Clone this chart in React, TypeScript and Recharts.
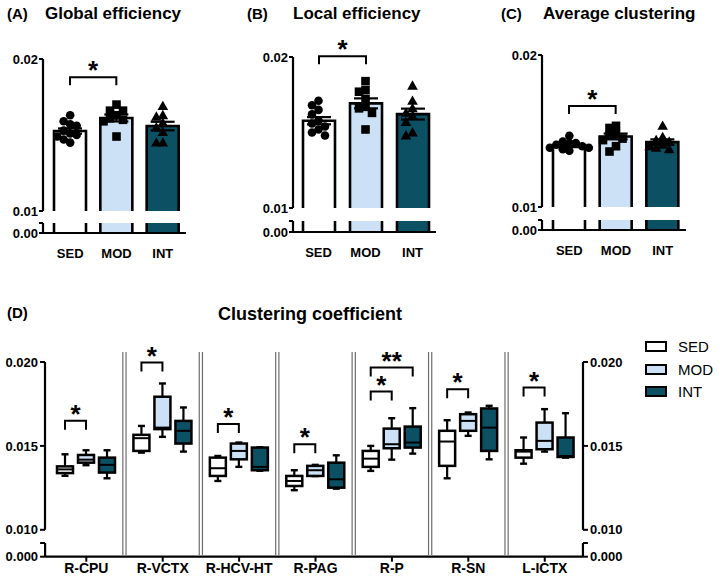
import React from "react"
import { Bar, Cell, ComposedChart, ErrorBar, Legend, ReferenceLine, Scatter, XAxis, YAxis } from "recharts"

const FONT = '"Liberation Sans", Arial, sans-serif'
const INK = "#000"

const groups = ["SED", "MOD", "INT"]
const groupFill: Record<string, string> = { SED: "#ffffff", MOD: "#cde1f6", INT: "#0c5064" }

// (A) Global efficiency: dots = animals, bar = mean, whisker = SEM
const globalSed = [0.0163, 0.0159, 0.0157, 0.0156, 0.0153, 0.0151, 0.015, 0.0149, 0.0147, 0.0145]
const globalMod = [0.017, 0.0166, 0.0166, 0.0163, 0.0161, 0.016, 0.0159, 0.0149]
const globalInt = [0.0169, 0.0163, 0.0162, 0.0158, 0.0155, 0.0152, 0.0145, 0.0145]
const globalMean = [0.01526, 0.01612, 0.01559]
const globalSem = [0.00017, 0.00023, 0.00028]
const globalBracket = 0.0188

// (B) Local efficiency
const localSed = [0.0171, 0.0168, 0.0165, 0.0162, 0.0158, 0.0156, 0.0154, 0.0152, 0.015, 0.0148]
const localMod = [0.0184, 0.0178, 0.0177, 0.0172, 0.0167, 0.0166, 0.0163, 0.0152]
const localInt = [0.0181, 0.0171, 0.0166, 0.0163, 0.0161, 0.0157, 0.015, 0.0148]
const localMean = [0.01578, 0.01693, 0.01622]
const localSem = [0.00024, 0.00033, 0.00036]
const localBracket = 0.02005

// (C) Average clustering
const avgSed = [0.01468, 0.0143, 0.0142, 0.0142, 0.0141, 0.014, 0.0139, 0.0139, 0.0138, 0.0137]
const avgMod = [0.01534, 0.0152, 0.0148, 0.0147, 0.0145, 0.0144, 0.014, 0.01365]
const avgInt = [0.01534, 0.0146, 0.0144, 0.0143, 0.0141, 0.014, 0.0139, 0.0138]
const avgMean = [0.01404, 0.01464, 0.01427]
const avgSem = [0.0001, 0.00019, 0.00018]
const avgBracket = 0.01665

// (D) Clustering coefficient per region: [min, q1, median, q3, max]
const regions = ["R-CPU", "R-VCTX", "R-HCV-HT", "R-PAG", "R-P", "R-SN", "L-ICTX"]
const sedBoxes = [
  [0.01322, 0.01338, 0.0136, 0.01378, 0.0145],
  [0.0146, 0.0147, 0.01546, 0.01566, 0.01619],
  [0.01291, 0.01321, 0.01367, 0.0143, 0.0144],
  [0.01236, 0.01261, 0.01291, 0.01321, 0.01355],
  [0.01351, 0.01375, 0.01424, 0.0147, 0.015],
  [0.01307, 0.01381, 0.01526, 0.0159, 0.01653],
  [0.01394, 0.0143, 0.01466, 0.01474, 0.0155],
]
const modBoxes = [
  [0.01385, 0.014, 0.01418, 0.01446, 0.01474],
  [0.01554, 0.016, 0.01609, 0.01793, 0.01872],
  [0.01375, 0.0142, 0.0147, 0.01514, 0.0152],
  [0.0132, 0.01321, 0.01355, 0.01381, 0.01387],
  [0.01418, 0.01486, 0.0151, 0.01603, 0.01665],
  [0.0156, 0.0159, 0.01649, 0.01689, 0.01699],
  [0.01466, 0.0148, 0.0153, 0.01639, 0.01719],
]
const intBoxes = [
  [0.01307, 0.01341, 0.01387, 0.0143, 0.01474],
  [0.01466, 0.01514, 0.0159, 0.01649, 0.01729],
  [0.01352, 0.01355, 0.01375, 0.0149, 0.01492],
  [0.01245, 0.01251, 0.01301, 0.014, 0.01444],
  [0.01454, 0.0149, 0.0152, 0.01615, 0.01725],
  [0.0142, 0.0147, 0.01609, 0.01723, 0.01739],
  [0.0143, 0.01434, 0.0144, 0.0155, 0.01695],
]

// significance brackets in (D), always starting at SED
const bracketRegion = ["R-CPU", "R-VCTX", "R-HCV-HT", "R-PAG", "R-P", "R-P", "R-SN", "L-ICTX"]
const bracketTo = [1, 1, 1, 1, 1, 2, 1, 1]
const bracketLevel = [0.0165, 0.01997, 0.0163, 0.0151, 0.01824, 0.01967, 0.01838, 0.01848]
const bracketMark = ["*", "*", "*", "*", "*", "**", "*", "*"]

const tickText = { fill: INK, fontSize: 13, fontWeight: 700, fontFamily: FONT }
const axisStroke = { stroke: INK, strokeWidth: 2.2 }
const tickStroke = { stroke: INK, strokeWidth: 2 }

// deterministic beeswarm slots so close values sit side by side
function swarmSlots(values: number[], gap: number): number[] {
  const placed: { v: number; s: number }[] = []
  const order = [0, -1, 1, -2, 2, -3, 3]
  return values.map((v) => {
    const taken = placed.filter((p) => Math.abs(p.v - v) < gap).map((p) => p.s)
    const s = order.find((o) => !taken.includes(o)) ?? 0
    placed.push({ v, s })
    return s
  })
}

function Title({ x, cy, size, text }: { x: number; cy: number; size: number; text: string }) {
  const lh = Math.round(size * 1.2)
  return (
    <div
      style={{
        position: "absolute",
        left: x,
        top: cy - lh / 2,
        lineHeight: lh + "px",
        fontSize: size,
        fontWeight: 700,
        fontFamily: FONT,
        whiteSpace: "nowrap",
        color: INK,
      }}
    >
      {text}
    </div>
  )
}

function Star({ x, y, mark }: { x: number; y: number; mark: string }) {
  return (
    <text x={x} y={y + 6} textAnchor="middle" fontSize={26} fontWeight={700} fontFamily={FONT} fill={INK}>
      {mark}
    </text>
  )
}

const markShape = (kind: number) => (p: any) => {
  const cx = p.cx + p.payload.slot * 6.5
  const cy = p.cy
  if (kind === 0) return <circle cx={cx} cy={cy} r={4.3} fill={INK} />
  if (kind === 1) return <rect x={cx - 4.3} y={cy - 4.3} width={8.6} height={8.6} fill={INK} />
  return <path d={`M${cx},${cy - 5.4} L${cx + 5.3},${cy + 4} L${cx - 5.3},${cy + 4} Z`} fill={INK} />
}

type Lay = {
  axisX: number
  y02: number
  y01: number
  yCap: number
  y00: number
  right: number
  pad: number
  tagX: number
  titleX: number
}

function BarPanel(props: {
  tag: string
  title: string
  points: number[][]
  mean: number[]
  sem: number[]
  bracket: number
  lay: Lay
}) {
  const { tag, title, points, mean, sem, bracket, lay } = props
  const band = (lay.right - lay.axisX - lay.pad) / 3
  const pxPerUnit = (lay.y01 - lay.y02) / 0.01
  const capValue = (lay.y00 - lay.yCap) / pxPerUnit
  const data = groups.map((g, i) => ({ g, mean: mean[i], sem: sem[i] }))
  const dots = groups.map((g, i) => {
    const slots = swarmSlots(points[i], 0.00045)
    return points[i].map((v, k) => ({ g, v, slot: slots[k] }))
  })
  const left = lay.axisX - 43
  const width = lay.right - left + 6
  const headroom = 42
  const foot = 9

  const upperShape = (p: any) => {
    const { x, y, width: w, height: h, fill, payload } = p
    let bracketEl = null
    if (payload.g === "SED") {
      const k = h / (payload.mean - 0.01)
      const by = y - (bracket - payload.mean) * k
      const x1 = x + w / 2
      const x2 = x1 + band
      bracketEl = (
        <g>
          <path d={`M${x1},${by + 8} V${by} H${x2} V${by + 8}`} fill="none" stroke={INK} strokeWidth={2} />
          <Star x={(x1 + x2) / 2} y={by - 4} mark="*" />
        </g>
      )
    }
    return (
      <g>
        <rect x={x} y={y} width={w} height={h} fill={fill} />
        <path d={`M${x},${y + h} V${y} H${x + w} V${y + h}`} fill="none" stroke={INK} strokeWidth={2.6} />
        {bracketEl}
      </g>
    )
  }

  const lowerShape = (p: any) => {
    const { x, y, width: w, height: h, fill } = p
    return (
      <g>
        <rect x={x} y={y} width={w} height={h} fill={fill} />
        <line x1={x} x2={x} y1={y} y2={y + h} stroke={INK} strokeWidth={2.6} />
        <line x1={x + w} x2={x + w} y1={y} y2={y + h} stroke={INK} strokeWidth={2.6} />
      </g>
    )
  }

  return (
    <>
      <Title x={lay.tagX} cy={14} size={15} text={tag} />
      <Title x={lay.titleX} cy={14} size={17} text={title} />
      <div style={{ position: "absolute", left, top: lay.y02 - headroom }}>
        <ComposedChart
          width={width}
          height={headroom + lay.y01 - lay.y02 + foot}
          data={data}
          margin={{ top: headroom, right: 6, bottom: foot, left: 0 }}
        >
          <XAxis dataKey="g" hide allowDuplicatedCategory={false} padding={{ left: lay.pad, right: 0 }} />
          <YAxis
            type="number"
            width={43}
            domain={[0.01, 0.02]}
            ticks={[0.01, 0.02]}
            interval={0}
            tickFormatter={(v: number) => v.toFixed(2)}
            tick={tickText}
            tickSize={4}
            tickMargin={1}
            axisLine={axisStroke}
            tickLine={tickStroke}
          />
          <Bar dataKey="mean" barSize={32} shape={upperShape} isAnimationActive={false}>
            {data.map((d) => (
              <Cell key={d.g} fill={groupFill[d.g]} />
            ))}
            <ErrorBar dataKey="sem" width={12} stroke={INK} strokeWidth={2.2} direction="y" />
          </Bar>
          {groups.map((g, i) => (
            <Scatter key={g} data={dots[i]} dataKey="v" shape={markShape(i)} isAnimationActive={false} />
          ))}
        </ComposedChart>
      </div>
      <div style={{ position: "absolute", left, top: lay.yCap - 1 }}>
        <ComposedChart
          width={width}
          height={1 + lay.y00 - lay.yCap + 28}
          data={data}
          margin={{ top: 1, right: 6, bottom: 0, left: 0 }}
        >
          <XAxis
            dataKey="g"
            height={28}
            interval={0}
            padding={{ left: lay.pad, right: 0 }}
            tickLine={false}
            tickMargin={10}
            tick={tickText}
            axisLine={axisStroke}
          />
          <YAxis
            type="number"
            width={43}
            domain={[0, capValue]}
            ticks={[0, capValue]}
            interval={0}
            allowDataOverflow
            tickFormatter={(v: number) => (v === 0 ? "0.00" : "")}
            tick={tickText}
            tickSize={4}
            tickMargin={1}
            axisLine={axisStroke}
            tickLine={tickStroke}
          />
          <Bar dataKey="mean" barSize={32} shape={lowerShape} isAnimationActive={false}>
            {data.map((d) => (
              <Cell key={d.g} fill={groupFill[d.g]} />
            ))}
          </Bar>
        </ComposedChart>
      </div>
    </>
  )
}

const LegendBoxes = (props: any) => {
  const items = [...(props.payload || [])].sort(
    (a: any, b: any) => groups.indexOf(a.value) - groups.indexOf(b.value)
  )
  return (
    <div style={{ fontFamily: FONT, fontSize: 15, color: INK }}>
      {items.map((p: any) => (
        <div key={p.value} style={{ display: "flex", alignItems: "center", height: 22.4 }}>
          <span
            style={{
              display: "inline-block",
              width: 18,
              height: 7,
              border: "2.7px solid #000",
              background: p.color,
            }}
          />
          <span style={{ marginLeft: 11 }}>{p.value}</span>
        </div>
      ))}
    </div>
  )
}

function ClusterPanel() {
  const plotLeft = 45
  const plotRight = 583
  const y020 = 361.7
  const y010 = 529.5
  const yCap = 543
  const y000 = 556.7
  const pad = 3
  const headroom = 45
  const foot = 9
  const rightW = 50
  const step = 16 + 5
  const capValue = ((y000 - yCap) * 0.01) / (y010 - y020)
  const upperTop = y020 - headroom

  const data = regions.map((region, i) => ({
    region,
    SED: [sedBoxes[i][0], sedBoxes[i][4]],
    MOD: [modBoxes[i][0], modBoxes[i][4]],
    INT: [intBoxes[i][0], intBoxes[i][4]],
    stats: { SED: sedBoxes[i], MOD: modBoxes[i], INT: intBoxes[i] } as Record<string, number[]>,
  }))
  const seps = regions.slice(1)

  const boxShape = (g: string) => (p: any) => {
    const { x, y, width: w, height: h, payload } = p
    const [lo, q1, med, q3, hi] = payload.stats[g]
    const k = h / (hi - lo)
    const py = (v: number) => y + (hi - v) * k
    const cx = x + w / 2
    const brackets =
      g === "SED"
        ? bracketRegion
            .map((r, i) => ({ r, i }))
            .filter((b) => b.r === payload.region)
            .map(({ i }) => {
              const by = py(bracketLevel[i])
              const x2 = cx + bracketTo[i] * step
              return (
                <g key={i}>
                  <path d={`M${cx},${by + 9} V${by} H${x2} V${by + 9}`} fill="none" stroke={INK} strokeWidth={2} />
                  <Star x={(cx + x2) / 2} y={by - 4} mark={bracketMark[i]} />
                </g>
              )
            })
        : null
    return (
      <g>
        <line x1={cx} x2={cx} y1={py(hi)} y2={py(q3)} stroke={INK} strokeWidth={2.2} />
        <line x1={cx} x2={cx} y1={py(q1)} y2={py(lo)} stroke={INK} strokeWidth={2.2} />
        <line x1={cx - 3.5} x2={cx + 3.5} y1={py(hi)} y2={py(hi)} stroke={INK} strokeWidth={2.4} />
        <line x1={cx - 3.5} x2={cx + 3.5} y1={py(lo)} y2={py(lo)} stroke={INK} strokeWidth={2.4} />
        <rect
          x={x}
          y={py(q3)}
          width={w}
          height={Math.max(py(q1) - py(q3), 0.5)}
          fill={groupFill[g]}
          stroke={INK}
          strokeWidth={2.5}
        />
        <line x1={x} x2={x + w} y1={py(med)} y2={py(med)} stroke={INK} strokeWidth={2} />
        {brackets}
      </g>
    )
  }

  const yTicks = {
    type: "number" as const,
    tick: tickText,
    tickSize: 5,
    tickMargin: 2,
    interval: 0 as const,
    axisLine: axisStroke,
    tickLine: tickStroke,
  }

  return (
    <>
      <Title x={7} cy={313} size={15} text="(D)" />
      <Title x={218} cy={314} size={18} text="Clustering coefficient" />
      <div style={{ position: "absolute", left: 0, top: 352, pointerEvents: "none" }}>
        <ComposedChart
          width={720}
          height={203}
          data={data}
          margin={{ top: 0, right: 720 - plotRight, bottom: 0, left: plotLeft }}
        >
          <XAxis dataKey="region" hide scale="band" padding={{ left: pad, right: 0 }} />
          <YAxis type="number" hide domain={[0, 1]} allowDataOverflow />
          {seps.map((r) => (
            <ReferenceLine key={"g" + r} x={r} position="start" stroke="#6e6e6e" strokeWidth={4.4} />
          ))}
          {seps.map((r) => (
            <ReferenceLine key={"w" + r} x={r} position="start" stroke="#ffffff" strokeWidth={2} />
          ))}
        </ComposedChart>
      </div>
      <div style={{ position: "absolute", left: 0, top: upperTop }}>
        <ComposedChart
          width={720}
          height={headroom + y010 - y020 + foot}
          data={data}
          barGap={5}
          margin={{ top: headroom, right: 720 - plotRight - rightW, bottom: foot, left: 0 }}
        >
          <XAxis dataKey="region" hide padding={{ left: pad, right: 0 }} />
          <YAxis
            yAxisId="l"
            width={plotLeft}
            domain={[0.01, 0.02]}
            ticks={[0.01, 0.015, 0.02]}
            tickFormatter={(v: number) => v.toFixed(3)}
            {...yTicks}
          />
          <YAxis
            yAxisId="r"
            orientation="right"
            width={rightW}
            domain={[0.01, 0.02]}
            ticks={[0.01, 0.015, 0.02]}
            allowDataOverflow
            tickFormatter={(v: number) => v.toFixed(3)}
            {...yTicks}
          />
          {groups.map((g) => (
            <Bar
              key={g}
              yAxisId="l"
              dataKey={g}
              name={g}
              fill={groupFill[g]}
              barSize={16}
              shape={boxShape(g)}
              isAnimationActive={false}
            />
          ))}
          <Legend
            layout="vertical"
            align="center"
            verticalAlign="middle"
            content={LegendBoxes}
            wrapperStyle={{ left: 645, top: 335.5 - upperTop, width: 75, height: 70 }}
          />
        </ComposedChart>
      </div>
      <div style={{ position: "absolute", left: 0, top: yCap - 1 }}>
        <ComposedChart
          width={720}
          height={1 + y000 - yCap + 30}
          data={data}
          margin={{ top: 1, right: 720 - plotRight - rightW, bottom: 0, left: 0 }}
        >
          <XAxis
            dataKey="region"
            scale="band"
            height={30}
            interval={0}
            padding={{ left: pad, right: 0 }}
            tickSize={5}
            tickMargin={1}
            tick={{ ...tickText, fontSize: 14 }}
            axisLine={axisStroke}
            tickLine={tickStroke}
          />
          <YAxis
            yAxisId="l"
            width={plotLeft}
            domain={[0, capValue]}
            ticks={[0, capValue]}
            allowDataOverflow
            tickFormatter={(v: number) => (v === 0 ? "0.000" : "")}
            {...yTicks}
          />
          <YAxis
            yAxisId="r"
            orientation="right"
            width={rightW}
            domain={[0, capValue]}
            ticks={[0, capValue]}
            allowDataOverflow
            tickFormatter={(v: number) => (v === 0 ? "0.000" : "")}
            {...yTicks}
          />
        </ComposedChart>
      </div>
    </>
  )
}

export default function App() {
  return (
    <div
      style={{
        position: "absolute",
        left: 0,
        top: 0,
        width: 720,
        height: 582,
        background: "#fff",
        overflow: "hidden",
        fontFamily: FONT,
      }}
    >
      <BarPanel
        tag="(A)"
        title="Global efficiency"
        points={[globalSed, globalMod, globalInt]}
        mean={globalMean}
        sem={globalSem}
        bracket={globalBracket}
        lay={{ axisX: 43, y02: 59, y01: 211, yCap: 223, y00: 233, right: 186, pad: 4, tagX: 7, titleX: 45 }}
      />
      <BarPanel
        tag="(B)"
        title="Local efficiency"
        points={[localSed, localMod, localInt]}
        mean={localMean}
        sem={localSem}
        bracket={localBracket}
        lay={{ axisX: 293, y02: 57, y01: 208, yCap: 221, y00: 232, right: 436, pad: 2, tagX: 247, titleX: 293 }}
      />
      <BarPanel
        tag="(C)"
        title="Average clustering"
        points={[avgSed, avgMod, avgInt]}
        mean={avgMean}
        sem={avgSem}
        bracket={avgBracket}
        lay={{ axisX: 542, y02: 55, y01: 207, yCap: 220, y00: 230, right: 686, pad: 4, tagX: 501, titleX: 543 }}
      />
      <ClusterPanel />
    </div>
  )
}
